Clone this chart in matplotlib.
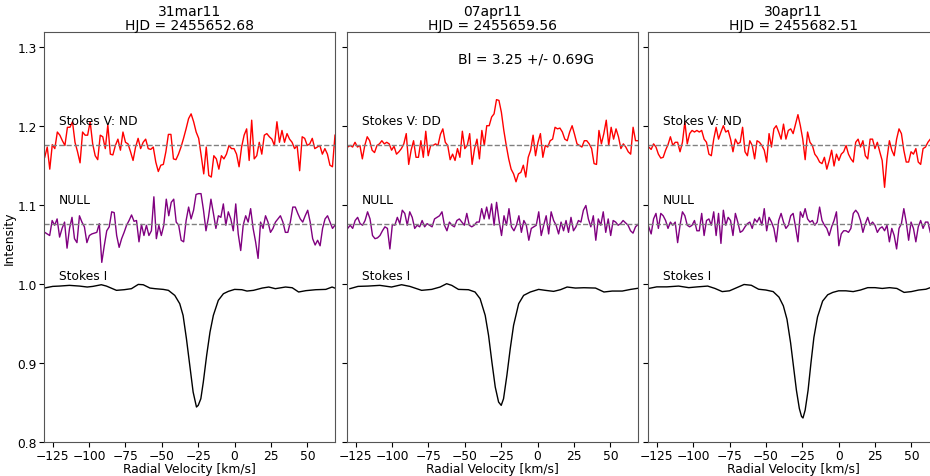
"""Stokes I / V / NULL LSD profiles for three nights, side by side."""
import matplotlib
matplotlib.use("Agg")
import matplotlib.pyplot as plt
import numpy as np

# ---------- data ---------------------------------------------------------

TITLES = ["31mar11\nHJD = 2455652.68",
          "07apr11\nHJD = 2455659.56",
          "30apr11\nHJD = 2455682.51"]
V_LABELS = ["Stokes V: ND", "Stokes V: DD", "Stokes V: ND"]
FIELD_TEXT = "Bl = 3.25 +/- 0.69G"
V_LEVEL = 1.175
N_LEVEL = 1.075
# velocity span covered by the sampled points in each panel (km/s)
V_SPAN = [(-130.5, 69.0), (-130.5, 69.0), (-130.5, 63.0)]

STOKES_V1 = [
    1.160, 1.173, 1.145, 1.176, 1.171, 1.192, 1.188, 1.181, 1.175, 1.198,
    1.198, 1.205, 1.179, 1.167, 1.153, 1.192, 1.188, 1.188, 1.205, 1.177,
    1.162, 1.157, 1.188, 1.186, 1.171, 1.201, 1.164, 1.163, 1.175, 1.183,
    1.169, 1.192, 1.179, 1.177, 1.167, 1.156, 1.173, 1.184, 1.171, 1.179,
    1.183, 1.171, 1.170, 1.173, 1.154, 1.142, 1.150, 1.151, 1.167, 1.189,
    1.189, 1.158, 1.157, 1.164, 1.173, 1.184, 1.196, 1.209, 1.215, 1.205,
    1.192, 1.184, 1.162, 1.139, 1.173, 1.137, 1.135, 1.162, 1.158, 1.145,
    1.162, 1.158, 1.164, 1.175, 1.171, 1.171, 1.164, 1.148, 1.173, 1.188,
    1.196, 1.156, 1.207, 1.158, 1.162, 1.179, 1.164, 1.188, 1.190, 1.186,
    1.183, 1.175, 1.205, 1.179, 1.194, 1.179, 1.190, 1.183, 1.179, 1.171,
    1.175, 1.143, 1.186, 1.184, 1.175, 1.177, 1.184, 1.171, 1.173, 1.175,
    1.164, 1.171, 1.164, 1.150, 1.148, 1.188,
]
NULL1 = [
    1.065, 1.063, 1.061, 1.080, 1.074, 1.082, 1.059, 1.070, 1.078, 1.045,
    1.070, 1.084, 1.057, 1.052, 1.086, 1.078, 1.072, 1.052, 1.061, 1.063,
    1.064, 1.065, 1.076, 1.027, 1.048, 1.067, 1.072, 1.091, 1.090, 1.061,
    1.046, 1.057, 1.065, 1.074, 1.080, 1.087, 1.079, 1.080, 1.053, 1.075,
    1.061, 1.074, 1.061, 1.067, 1.110, 1.057, 1.074, 1.061, 1.074, 1.107,
    1.086, 1.103, 1.107, 1.078, 1.074, 1.055, 1.053, 1.080, 1.097, 1.082,
    1.093, 1.113, 1.114, 1.114, 1.093, 1.067, 1.084, 1.107, 1.089, 1.070,
    1.086, 1.084, 1.101, 1.074, 1.091, 1.082, 1.067, 1.101, 1.063, 1.042,
    1.074, 1.086, 1.078, 1.095, 1.070, 1.053, 1.032, 1.078, 1.070, 1.086,
    1.078, 1.065, 1.070, 1.078, 1.082, 1.086, 1.078, 1.065, 1.065, 1.078,
    1.097, 1.097, 1.089, 1.082, 1.078, 1.086, 1.093, 1.078, 1.057, 1.049,
    1.055, 1.048, 1.070, 1.082, 1.086, 1.078, 1.070, 1.074,
]
STOKES_V2 = [
    1.173, 1.175, 1.173, 1.179, 1.173, 1.175, 1.158, 1.175, 1.186, 1.181,
    1.169, 1.166, 1.175, 1.177, 1.181, 1.177, 1.179, 1.177, 1.169, 1.174,
    1.164, 1.167, 1.171, 1.177, 1.190, 1.151, 1.169, 1.181, 1.160, 1.160,
    1.181, 1.160, 1.193, 1.162, 1.175, 1.175, 1.177, 1.175, 1.189, 1.196,
    1.179, 1.175, 1.157, 1.164, 1.156, 1.171, 1.160, 1.193, 1.171, 1.175,
    1.190, 1.151, 1.171, 1.183, 1.158, 1.194, 1.175, 1.200, 1.200, 1.211,
    1.215, 1.233, 1.232, 1.217, 1.194, 1.175, 1.158, 1.145, 1.139, 1.129,
    1.139, 1.141, 1.150, 1.135, 1.160, 1.169, 1.188, 1.162, 1.179, 1.190,
    1.160, 1.175, 1.173, 1.181, 1.183, 1.198, 1.196, 1.197, 1.192, 1.183,
    1.181, 1.192, 1.200, 1.189, 1.177, 1.175, 1.173, 1.181, 1.181, 1.177,
    1.171, 1.152, 1.151, 1.194, 1.177, 1.190, 1.207, 1.175, 1.198, 1.183,
    1.196, 1.186, 1.171, 1.177, 1.173, 1.167, 1.164, 1.198, 1.181, 1.181,
]
NULL2 = [
    1.070, 1.074, 1.070, 1.080, 1.084, 1.076, 1.074, 1.080, 1.091, 1.082,
    1.061, 1.057, 1.058, 1.061, 1.067, 1.072, 1.070, 1.044, 1.075, 1.074,
    1.084, 1.076, 1.093, 1.089, 1.074, 1.091, 1.084, 1.070, 1.074, 1.072,
    1.080, 1.072, 1.076, 1.074, 1.072, 1.082, 1.084, 1.086, 1.091, 1.074,
    1.067, 1.078, 1.074, 1.072, 1.080, 1.082, 1.078, 1.074, 1.089, 1.074,
    1.072, 1.074, 1.078, 1.078, 1.095, 1.082, 1.097, 1.082, 1.101, 1.074,
    1.103, 1.080, 1.061, 1.086, 1.074, 1.095, 1.072, 1.067, 1.074, 1.086,
    1.065, 1.080, 1.074, 1.055, 1.070, 1.072, 1.074, 1.091, 1.061, 1.074,
    1.086, 1.063, 1.091, 1.080, 1.074, 1.063, 1.078, 1.067, 1.080, 1.065,
    1.084, 1.067, 1.072, 1.080, 1.078, 1.093, 1.099, 1.082, 1.072, 1.086,
    1.055, 1.082, 1.074, 1.091, 1.065, 1.082, 1.061, 1.080, 1.078, 1.074,
    1.076, 1.080, 1.077, 1.074, 1.067, 1.064, 1.072, 1.075,
]
STOKES_V3 = [
    1.173, 1.170, 1.177, 1.173, 1.164, 1.159, 1.160, 1.169, 1.176, 1.186,
    1.175, 1.179, 1.179, 1.167, 1.179, 1.205, 1.177, 1.190, 1.194, 1.192,
    1.194, 1.192, 1.194, 1.183, 1.179, 1.164, 1.162, 1.183, 1.198, 1.183,
    1.192, 1.200, 1.192, 1.194, 1.183, 1.167, 1.183, 1.177, 1.179, 1.198,
    1.167, 1.162, 1.181, 1.175, 1.158, 1.181, 1.179, 1.175, 1.169, 1.154,
    1.190, 1.173, 1.196, 1.200, 1.192, 1.183, 1.202, 1.183, 1.194, 1.196,
    1.190, 1.202, 1.214, 1.200, 1.183, 1.157, 1.192, 1.179, 1.175, 1.164,
    1.160, 1.154, 1.152, 1.160, 1.145, 1.156, 1.169, 1.149, 1.164, 1.156,
    1.164, 1.167, 1.175, 1.164, 1.158, 1.154, 1.179, 1.183, 1.173, 1.181,
    1.162, 1.158, 1.183, 1.183, 1.171, 1.179, 1.167, 1.156, 1.122, 1.158,
    1.181, 1.169, 1.162, 1.183, 1.196, 1.190, 1.169, 1.154, 1.154, 1.167,
    1.164, 1.171, 1.154, 1.151, 1.171, 1.173, 1.179, 1.183,
]
NULL3 = [
    1.072, 1.063, 1.082, 1.089, 1.070, 1.089, 1.086, 1.080, 1.070, 1.078,
    1.074, 1.078, 1.052, 1.074, 1.091, 1.086, 1.074, 1.072, 1.074, 1.080,
    1.067, 1.067, 1.089, 1.061, 1.080, 1.082, 1.074, 1.091, 1.061, 1.089,
    1.051, 1.093, 1.074, 1.084, 1.080, 1.061, 1.089, 1.078, 1.065, 1.067,
    1.072, 1.076, 1.078, 1.070, 1.082, 1.078, 1.084, 1.074, 1.095, 1.067,
    1.084, 1.078, 1.070, 1.053, 1.080, 1.089, 1.078, 1.070, 1.074, 1.086,
    1.089, 1.072, 1.053, 1.091, 1.084, 1.095, 1.082, 1.078, 1.080, 1.074,
    1.078, 1.097, 1.080, 1.074, 1.070, 1.061, 1.072, 1.080, 1.091, 1.048,
    1.063, 1.067, 1.067, 1.065, 1.070, 1.089, 1.093, 1.089, 1.080, 1.065,
    1.076, 1.084, 1.074, 1.078, 1.074, 1.065, 1.070, 1.072, 1.067, 1.074,
    1.053, 1.070, 1.061, 1.044, 1.070, 1.076, 1.095, 1.078, 1.055, 1.078,
    1.070, 1.053, 1.072, 1.080, 1.070, 1.078, 1.078, 1.065,
]

# Stokes I is smooth, so it is sampled at its own (irregular) velocities
VEL_I1 = [-130.8, -125, -120.4, -113.5, -106.6, -101.3, -97.4, -91.6, -88.1,
          -81.2, -75.9, -70.9, -66.2, -62.8, -58.2, -54.7, -49, -45.5, -41.1,
          -37.7, -35.4, -33.1, -30.8, -28.5, -26.2, -25, -23.2, -21.5, -19.2,
          -16.9, -14.6, -11.2, -7.7, -4.3, 0, 5, 8.5, 13, 19, 23.5, 28, 35,
          39.6, 44, 49, 55.8, 62.7, 67, 70]
STOKES_I1 = [0.9945, 0.9966, 0.9970, 0.9979, 0.9970, 0.9958, 0.9966, 0.9987,
             0.9970, 0.9916, 0.9924, 0.9937, 0.9991, 0.9987, 0.9945, 0.9937,
             0.9928, 0.9916, 0.9852, 0.9747, 0.9599, 0.9304, 0.8966, 0.8629,
             0.8439, 0.8460, 0.8544, 0.8755, 0.9093, 0.9388, 0.9599, 0.9789,
             0.9873, 0.9903, 0.9928, 0.9924, 0.9907, 0.9916, 0.9945, 0.9958,
             0.9937, 0.9958, 0.9949, 0.9895, 0.9912, 0.9924, 0.9928, 0.9958,
             0.9937]
VEL_I2 = [-129, -123.4, -116.5, -108.4, -100.4, -93.5, -87.8, -79.7, -72.8,
          -67, -62.5, -59, -54.4, -47.5, -43, -39.5, -36, -33.7, -31.4, -29.1,
          -26.8, -25, -23.4, -21.1, -18.8, -16.5, -13, -9.6, -5, 0.7, 5.3, 11,
          15.7, 20.3, 26, 31.8, 39.8, 45.6, 51.3, 58.2, 64, 70]
STOKES_I2 = [0.9937, 0.9966, 0.9970, 0.9979, 0.9958, 0.9987, 0.9966, 0.9916,
             0.9928, 0.9958, 1.0000, 0.9979, 0.9928, 0.9924, 0.9895, 0.9810,
             0.9599, 0.9346, 0.9008, 0.8692, 0.8502, 0.8460, 0.8544, 0.8840,
             0.9177, 0.9473, 0.9747, 0.9852, 0.9895, 0.9928, 0.9916, 0.9903,
             0.9924, 0.9958, 0.9945, 0.9949, 0.9945, 0.9895, 0.9907, 0.9907,
             0.9928, 0.9945]
VEL_I3 = [-130.5, -125, -118, -110, -103, -97, -90, -85, -80, -75, -70, -65,
          -60, -55, -50, -45, -41, -38, -35.5, -33, -31, -29, -27, -25.5,
          -24.5, -23, -21, -19, -17, -14.5, -11, -7.5, -4, 0, 5, 10, 15, 20,
          25, 30, 35, 40, 45, 50, 55, 60, 63]
STOKES_I3 = [0.994, 0.996, 0.996, 0.997, 0.995, 0.996, 0.997, 0.994, 0.990,
             0.991, 0.995, 0.999, 0.998, 0.993, 0.992, 0.990, 0.983, 0.972,
             0.955, 0.925, 0.895, 0.865, 0.842, 0.832, 0.830, 0.840, 0.865,
             0.900, 0.932, 0.958, 0.978, 0.986, 0.989, 0.991, 0.991, 0.990,
             0.992, 0.995, 0.995, 0.994, 0.995, 0.994, 0.989, 0.990, 0.992,
             0.993, 0.995]

STOKES_V = [STOKES_V1, STOKES_V2, STOKES_V3]
NULLS = [NULL1, NULL2, NULL3]
VEL_I = [VEL_I1, VEL_I2, VEL_I3]
STOKES_I = [STOKES_I1, STOKES_I2, STOKES_I3]

XTICKS = [-125, -100, -75, -50, -25, 0, 25, 50]
YTICKS = [0.8, 0.9, 1.0, 1.1, 1.2, 1.3]

# ---------- plot ---------------------------------------------------------

plt.rcParams["font.family"] = "DejaVu Sans"
fig = plt.figure(figsize=(9.3, 4.77), dpi=100)

lefts = [0.0473, 0.3731, 0.6968]
width, bottom, height = 0.3129, 0.0719, 0.8589
fs = 8.8

for i in range(3):
    ax = fig.add_axes([lefts[i], bottom, width, height])
    lo, hi = V_SPAN[i]
    vel_v = np.linspace(lo, hi, len(STOKES_V[i]))
    vel_n = np.linspace(lo, hi, len(NULLS[i]))

    ax.plot(vel_v, STOKES_V[i], color="red", lw=1.0)
    ax.plot(vel_n, NULLS[i], color="purple", lw=1.0)
    ax.plot(VEL_I[i], STOKES_I[i], color="black", lw=1.0)
    ax.axhline(V_LEVEL, color="gray", ls="--", lw=1.0)
    ax.axhline(N_LEVEL, color="gray", ls="--", lw=1.0)

    ax.text(-121, 1.207, V_LABELS[i], fontsize=fs, va="center")
    ax.text(-121, 1.107, "NULL", fontsize=fs, va="center")
    ax.text(-121, 1.010, "Stokes I", fontsize=fs, va="center")
    if i == 1:
        ax.text(-55, 1.285, FIELD_TEXT, fontsize=10, va="center")

    ax.set_xlim(-131, 69)
    ax.set_ylim(0.8, 1.3186)
    ax.set_xticks(XTICKS)
    ax.set_yticks(YTICKS)
    ax.tick_params(labelsize=fs, length=3.5, width=0.8, pad=1.5)
    if i > 0:
        ax.set_yticklabels([])
    else:
        ax.set_ylabel("Intensity", fontsize=fs, labelpad=1)
    ax.set_xlabel("Radial Velocity [km/s]", fontsize=fs, labelpad=0)
    ax.set_title(TITLES[i], fontsize=10, pad=2, linespacing=1.0)
    for sp in ax.spines.values():
        sp.set_color("#555555")
        sp.set_linewidth(0.8)

fig.savefig("out.png", dpi=100)
